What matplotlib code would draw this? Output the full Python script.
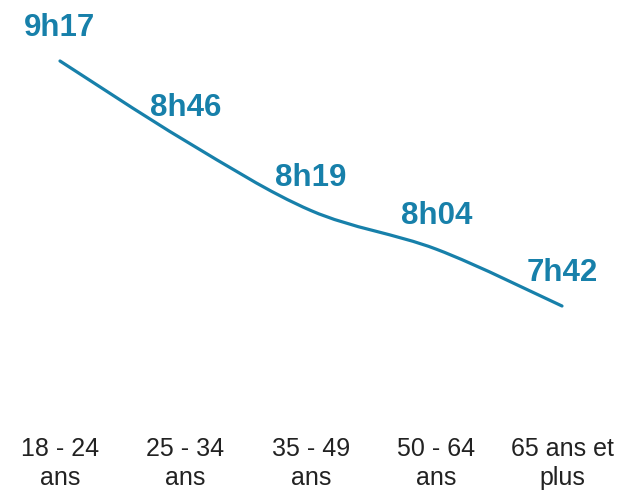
import matplotlib
matplotlib.use("Agg")
import matplotlib.pyplot as plt
from matplotlib.path import Path
from matplotlib.patches import PathPatch
import numpy as np

plt.rcParams['font.family'] = ['Liberation Sans', 'DejaVu Sans']

categories = ["18 - 24\nans", "25 - 34\nans", "35 - 49\nans", "50 - 64\nans", "65 ans et\nplus"]
minutes = [557, 526, 499, 484, 462]   # 9h17, 8h46, 8h19, 8h04, 7h42
labels = ["9h17", "8h46", "8h19", "8h04", "7h42"]

BLUE = "#1780aa"

fig = plt.figure(figsize=(6.26, 4.93), dpi=100)
ax = fig.add_axes([0, 0.1596, 1, 0.837])

x = np.arange(len(minutes), dtype=float)
y = np.array(minutes, dtype=float)

# smoothed line (Catmull-Rom -> cubic Bezier), like a spreadsheet "smooth line"
verts = [(x[0], y[0])]
codes = [Path.MOVETO]
n = len(x)
for i in range(n - 1):
    p0 = (x[max(i - 1, 0)], y[max(i - 1, 0)])
    p1 = (x[i], y[i])
    p2 = (x[i + 1], y[i + 1])
    p3 = (x[min(i + 2, n - 1)], y[min(i + 2, n - 1)])
    c1 = (p1[0] + (p2[0] - p0[0]) / 6, p1[1] + (p2[1] - p0[1]) / 6)
    c2 = (p2[0] - (p3[0] - p1[0]) / 6, p2[1] - (p3[1] - p1[1]) / 6)
    verts += [c1, c2, p2]
    codes += [Path.CURVE4] * 3
ax.add_patch(PathPatch(Path(verts, codes), facecolor="none", edgecolor=BLUE,
                       lw=2.3, capstyle="round"))

for xi, yi, lab in zip(x, y, labels):
    ax.annotate(lab, (xi, yi), xytext=(0, 18), textcoords="offset points",
                ha="center", va="baseline", fontsize=22.5, fontweight="bold", color=BLUE)

ax.set_xlim(-0.478, 4.51)
ax.set_ylim(420, 580)
ax.set_xticks(x)
ax.set_xticklabels(categories, fontsize=18, color="#222222", linespacing=1.3)
ax.tick_params(axis="x", length=0, pad=16)
ax.set_yticks([])
for s in ax.spines.values():
    s.set_visible(False)

fig.savefig("out.png", dpi=100)
